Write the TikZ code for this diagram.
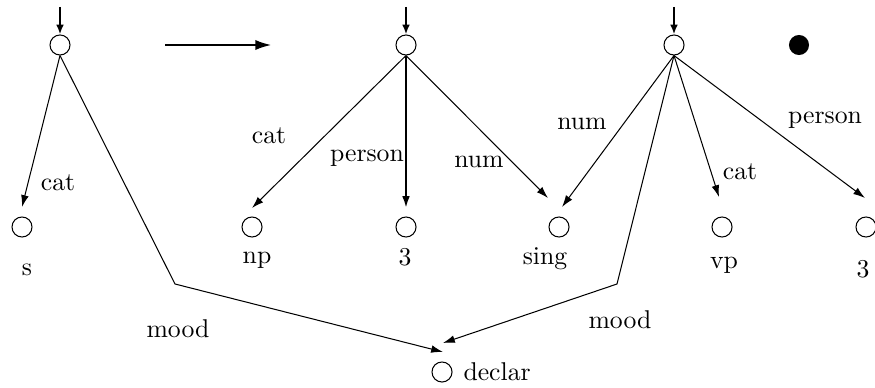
\documentclass[tikz,border=0pt]{standalone}
\usetikzlibrary{arrows.meta}
\begin{document}
\begin{tikzpicture}[x=0.389pt,y=-0.389pt,
  fs/.style={circle,draw,line width=0.4pt,minimum size=7.8pt,inner sep=0pt},
  dotnode/.style={circle,fill=black,minimum size=7.8pt,inner sep=0pt},
  lab/.style={inner sep=0pt,anchor=center},
  val/.style={inner sep=0pt,anchor=base},
  arc/.style={line width=0.4pt,-{Latex[length=4.6pt,width=3pt]}},
  heavyarc/.style={line width=0.8pt,-{Latex[length=4.6pt,width=3pt]}},
  inarc/.style={line width=1pt,-{Latex[length=3.8pt,width=3pt]}},
  bigarc/.style={line width=1.1pt,-{Latex[length=6.5pt,width=4pt]}}]
\useasboundingbox (0,0) rectangle (875,388);

% top nodes
\node[fs] (n1) at (60,45) {};
\node[fs] (n2) at (406,45) {};
\node[fs] (n3) at (674,45) {};
\node[dotnode] (dot) at (799,45) {};

% incoming arrows
\coordinate (i1) at (60,7);
\coordinate (i2) at (406,7);
\coordinate (i3) at (674,7);
\draw[inarc] (i1) -- (n1.north);
\draw[inarc] (i2) -- (n2.north);
\draw[inarc] (i3) -- (n3.north);

% big arrow
\coordinate (ba) at (165,45);
\coordinate (bb) at (272,45);
\draw[bigarc] (ba) -- (bb);

% bottom nodes
\node[fs] (s) at (22,227) {};
\node[fs] (np) at (252,227) {};
\node[fs] (three) at (406,227) {};
\node[fs] (sing) at (559,227) {};
\node[fs] (vp) at (722,227) {};
\node[fs] (threeR) at (866,227) {};
\node[fs] (declar) at (442,372) {};
\node[anchor=west,inner sep=0pt] (declartxt) at (463,372) {declar};

% value labels
\node[val] (ls) at (27,275) {s};
\node[val] (lnp) at (257,263) {np};
\node[val] (lthree) at (405,265) {3};
\node[val] (lsing) at (545,264) {sing};
\node[val] (lvp) at (724,268) {vp};
\node[val] (lthreeR) at (863,277) {3};

% arrow tips and bends
\coordinate (ts) at (22,207);
\coordinate (tnp) at (252,208);
\coordinate (tthree) at (406,208);
\coordinate (tsing1) at (548,198);
\coordinate (tsing2) at (562,207);
\coordinate (tvp) at (719,197);
\coordinate (tthreeR) at (865,198);
\coordinate (tdec1) at (443,352);
\coordinate (tdec2) at (443,343);
\coordinate (b1) at (175,284);
\coordinate (b2) at (617,284);

% edges
\draw[arc] (n1.south) -- (ts);
\draw[arc] (n1.south) -- (b1) -- (tdec1);
\draw[arc] (n2.south) -- (tnp);
\draw[heavyarc] (n2.south) -- (tthree);
\draw[arc] (n2.south) -- (tsing1);
\draw[arc] (n3.south) -- (tsing2);
\draw[arc] (n3.south) -- (b2) -- (tdec2);
\draw[arc] (n3.south) -- (tvp);
\draw[arc] (n3.south) -- (tthreeR);

% edge labels
\node[lab] (c1) at (58,183) {cat};
\node[lab] (c2) at (269,136) {cat};
\node[lab] (p2) at (367,158) {person};
\node[lab] (m2) at (479,162) {num};
\node[lab] (m3) at (582,124) {num};
\node[lab] (c3) at (740,172) {cat};
\node[lab] (p3) at (825,120) {person};
\node[lab] (d1) at (178,329) {mood};
\node[lab] (d2) at (620,320) {mood};
\end{tikzpicture}
\end{document}
